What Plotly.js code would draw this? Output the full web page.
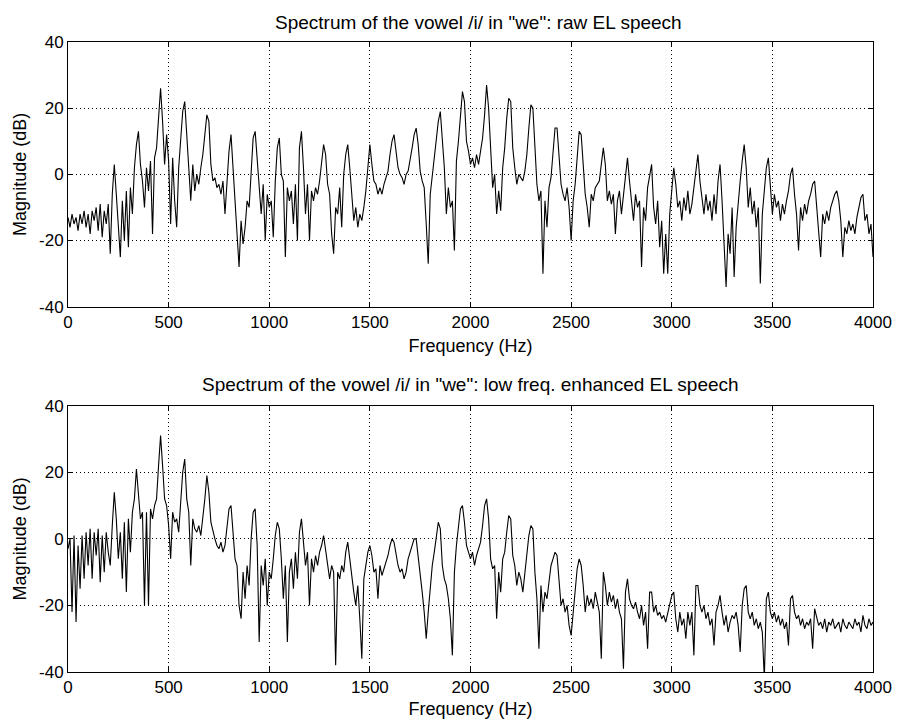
<!DOCTYPE html>
<html>
<head>
<meta charset="utf-8">
<script src="https://cdn.plot.ly/plotly-3.0.1.min.js"></script>
<style>
  html, body { margin: 0; padding: 0; background: #fff; }
  #chart { width: 898px; height: 719px; }
</style>
</head>
<body>
<div id="chart"></div>
<script>
// Frequency bin spacing (Hz) of the spectra
const FREQ_STEP = 10;

// Raw EL speech spectrum, magnitude (dB), one value every 10 Hz from 0 to 4000 Hz
const rawMagnitude = [
  -13,-16,-12,-15,-13,-17,-12,-15,-11,-16,
  -12,-18,-11,-14,-10,-17,-9,-19,-11,-15,
  -9,-24,-6,3,-6,-15,-25,-8,-20,-5,
  -22,-4,-12,2,9,13,3,-2,-10,2,
  -5,4,-18,5,8,17,26,16,3,12,
  4,-15,5,-8,-16,2,10,19,22,12,
  5,-8,3,-5,0,-3,2,6,12,18,
  16,3,-2,-1,-4,-3,-6,-2,-12,-3,
  7,12,2,-10,-18,-28,-14,-21,-16,-8,
  -10,2,11,13,4,-5,-12,-3,-20,-6,
  -10,-8,-19,-2,8,11,0,-2,-25,-4,
  -8,-5,-15,-3,-20,8,13,2,-12,-3,
  -20,-5,-8,-4,-6,-2,3,9,6,-3,
  -6,-18,-24,-10,-12,-4,-16,0,6,9,
  2,-5,-14,-10,-16,-12,-14,-10,-5,2,
  9,3,-2,-3,-6,-4,-6,-3,-1,1,
  6,10,12,6,2,0,-1,-3,0,1,
  4,8,12,14,9,1,-2,-4,-15,-27,
  -6,0,6,12,16,19,11,2,-12,-4,
  -10,-8,-23,4,10,17,25,22,10,7,
  3,5,2,6,3,7,11,18,27,20,
  6,-4,0,-12,-5,-11,2,8,17,23,
  22,8,2,-3,0,-1,-2,1,6,14,
  21,20,7,-3,-8,-5,-30,-8,-16,-4,
  -1,6,14,14,4,-3,-6,-8,-4,-10,
  -20,-8,-3,6,13,12,1,-6,-10,-16,
  -6,-8,-4,-3,-2,3,8,3,-8,-5,
  -9,-6,-18,-8,-5,-12,-6,0,5,-2,
  -8,-14,-6,-10,-8,-28,-10,-14,-4,0,
  3,-10,-15,-8,-22,-14,-30,-18,-30,-12,
  -6,2,-3,-10,-8,-14,-7,-11,-5,-12,
  -9,-4,2,6,-2,-8,-12,-6,-11,-8,
  -14,-6,-12,-2,3,-8,-20,-34,-18,-24,
  -10,-31,-16,-8,-2,4,9,2,-10,-4,
  -12,-8,-16,-10,-33,-12,-4,2,5,-4,
  -12,-6,-10,-8,-14,-9,-12,-8,-5,0,
  2,-6,-12,-23,-10,-14,-9,-12,-8,-6,
  -3,-2,-9,-16,-25,-12,-15,-11,-14,-10,
  -8,-6,-5,-8,-14,-25,-16,-18,-14,-17,
  -15,-18,-13,-10,-7,-6,-14,-12,-18,-15,
  -25
];

// Low-frequency enhanced EL speech spectrum, magnitude (dB), every 10 Hz from 0 to 4000 Hz
const enhancedMagnitude = [
  -3,0,-22,1,-25,-2,-15,1,-12,2,
  -8,3,-12,2,-5,3,-13,1,-10,2,
  -4,-8,4,14,6,-6,2,-12,5,-16,
  6,-4,8,12,21,14,6,8,-20,8,
  -20,9,6,10,12,22,31,22,12,10,
  4,-6,8,5,6,2,10,20,24,12,
  8,-8,6,3,2,4,1,6,12,19,
  14,5,2,0,-2,-3,-1,-4,-2,4,
  9,10,1,-6,-8,-20,-24,-10,-18,-8,
  -14,0,8,9,-2,-31,-8,-14,-6,-20,
  -10,-12,-6,1,5,3,-6,-18,-8,-31,
  -10,-6,-15,-4,-12,2,6,0,-8,-4,
  -20,-6,-10,-5,-8,-4,-2,1,-3,-8,
  -12,-8,-10,-38,-10,-12,-8,-10,-4,-1,
  -6,-12,-16,-20,-14,-24,-36,-12,-8,-4,
  -2,-5,-10,-9,-18,-8,-11,-9,-7,-5,
  -2,0,-1,-5,-8,-10,-9,-12,-10,-6,
  -4,-2,0,0,-5,-10,-16,-22,-30,-22,
  -14,-8,-4,0,5,3,-8,-12,-14,-18,
  -24,-35,-10,-2,4,9,10,5,-2,-4,
  -6,-4,-8,-5,-3,-1,4,10,12,6,
  -6,-9,-8,-24,-10,-16,-6,-4,2,7,
  6,-5,-8,-14,-10,-12,-16,-10,-6,1,
  4,3,-10,-18,-33,-14,-22,-16,-18,-12,
  -8,-6,-4,-5,-14,-20,-18,-22,-20,-26,
  -29,-22,-16,-9,-6,-8,-14,-22,-17,-20,
  -18,-21,-16,-19,-22,-36,-10,-14,-20,-16,
  -19,-17,-21,-18,-22,-24,-39,-16,-12,-18,
  -20,-21,-19,-22,-24,-20,-26,-22,-33,-16,
  -16,-22,-20,-23,-22,-24,-23,-25,-22,-20,
  -17,-16,-24,-28,-22,-26,-24,-30,-22,-26,
  -22,-35,-14,-14,-20,-22,-20,-24,-22,-26,
  -24,-32,-22,-20,-17,-22,-26,-23,-28,-25,
  -23,-24,-22,-26,-34,-20,-15,-14,-22,-24,
  -22,-26,-24,-27,-25,-28,-42,-18,-16,-22,
  -24,-22,-25,-23,-26,-24,-27,-25,-32,-18,
  -17,-22,-24,-23,-26,-24,-27,-25,-26,-24,
  -33,-21,-24,-26,-25,-27,-24,-28,-25,-26,
  -24,-27,-26,-25,-28,-24,-26,-27,-25,-26,
  -27,-24,-26,-25,-28,-23,-26,-27,-24,-26,
  -25
];

const xTickVals = [0, 500, 1000, 1500, 2000, 2500, 3000, 3500, 4000];
const yTickVals = [-40, -20, 0, 20, 40];
const titleTop = 'Spectrum of the vowel /i/ in "we": raw EL speech';
const titleBottom = 'Spectrum of the vowel /i/ in "we": low freq. enhanced EL speech';
const xLabel = 'Frequency (Hz)';
const yLabel = 'Magnitude (dB)';

const freqRaw = rawMagnitude.map((_, i) => i * FREQ_STEP);
const freqEnh = enhancedMagnitude.map((_, i) => i * FREQ_STEP);

const FONT = '"Liberation Sans", Arial, Helvetica, sans-serif';

const traces = [
  { x: freqRaw, y: rawMagnitude, type: 'scatter', mode: 'lines',
    line: { color: '#000', width: 1.1 }, xaxis: 'x', yaxis: 'y', hoverinfo: 'skip' },
  { x: freqEnh, y: enhancedMagnitude, type: 'scatter', mode: 'lines',
    line: { color: '#000', width: 1.1 }, xaxis: 'x2', yaxis: 'y2', hoverinfo: 'skip' }
];

function xAxis(anchor) {
  return {
    anchor: anchor, domain: [0, 1], range: [0, 4000],
    tickmode: 'array', tickvals: xTickVals, ticktext: xTickVals.map(String),
    ticks: 'inside', ticklen: 5, tickcolor: '#000',
    showgrid: true, gridcolor: '#000', griddash: '1px,3px', gridwidth: 1,
    showline: true, mirror: 'ticks', linecolor: '#000', linewidth: 1,
    zeroline: false,
    tickfont: { family: FONT, size: 17, color: '#000' },
    title: { text: xLabel, font: { family: FONT, size: 18, color: '#000' }, standoff: 8 }
  };
}
function yAxis(anchor, domain) {
  return {
    anchor: anchor, domain: domain, range: [-40, 40],
    tickmode: 'array', tickvals: yTickVals, ticktext: yTickVals.map(String),
    ticks: 'inside', ticklen: 5, tickcolor: '#000',
    showgrid: true, gridcolor: '#000', griddash: '1px,3px', gridwidth: 1,
    showline: true, mirror: 'ticks', linecolor: '#000', linewidth: 1,
    zeroline: false,
    tickfont: { family: FONT, size: 17, color: '#000' },
    title: { text: yLabel, font: { family: FONT, size: 18, color: '#000' }, standoff: 7 }
  };
}

const layout = {
  width: 898, height: 719,
  margin: { l: 68, r: 25, t: 42, b: 47 },
  paper_bgcolor: '#fff', plot_bgcolor: '#fff',
  showlegend: false,
  font: { family: FONT, color: '#000' },
  xaxis: xAxis('y'),
  yaxis: yAxis('x', [0.5798, 1]),
  xaxis2: xAxis('y2'),
  yaxis2: yAxis('x2', [0, 0.4227]),
  annotations: [
    { text: titleTop, xref: 'paper', yref: 'paper', x: 0.51, y: 1.0, yshift: 20,
      xanchor: 'center', yanchor: 'middle', showarrow: false,
      font: { family: FONT, size: 19, color: '#000' } },
    { text: titleBottom, xref: 'paper', yref: 'paper', x: 0.5, y: 0.4227, yshift: 21,
      xanchor: 'center', yanchor: 'middle', showarrow: false,
      font: { family: FONT, size: 19, color: '#000' } }
  ]
};

Plotly.newPlot('chart', traces, layout, { staticPlot: true, displayModeBar: false });
</script>
</body>
</html>
